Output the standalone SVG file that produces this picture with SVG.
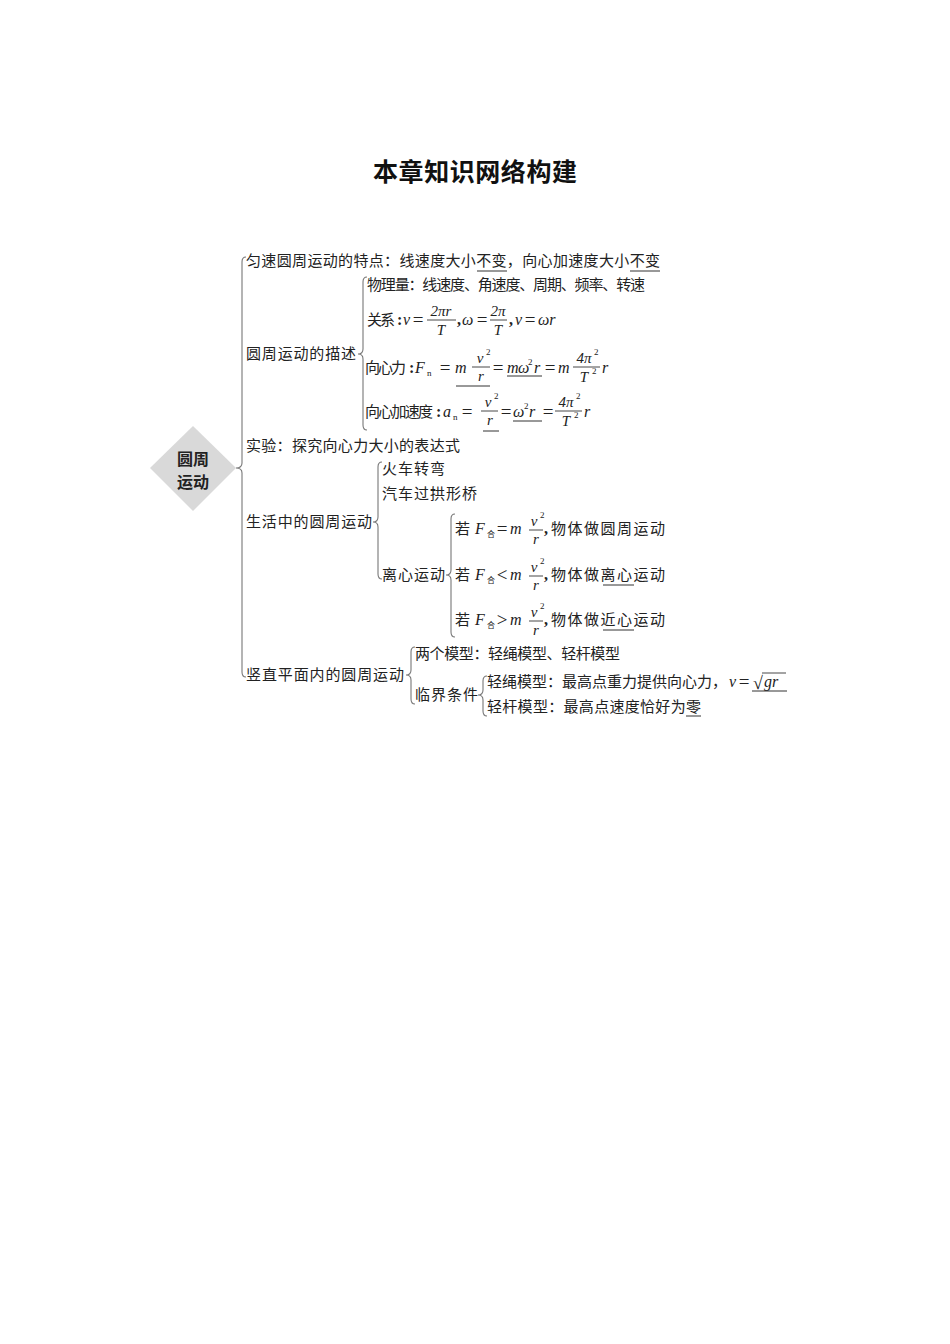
<svg xmlns="http://www.w3.org/2000/svg" width="950" height="1344" viewBox="0 0 950 1344">
<style>
.t{font-family:"Noto Sans CJK SC","Noto Sans",sans-serif;font-size:15px;fill:#222}
.s{font-family:"Noto Sans CJK SC",sans-serif;font-size:8px;fill:#222}
.m{font-family:"Liberation Serif",serif;font-style:italic;font-size:16px;fill:#222}
.f{font-family:"Liberation Serif",serif;font-style:italic;font-size:15px;fill:#222}
.u{font-family:"Liberation Serif",serif;font-size:16px;font-weight:700;fill:#222}
.e{font-family:"Liberation Serif",serif;font-size:19px;fill:#222;text-anchor:middle}
.p{font-family:"Liberation Serif",serif;font-size:9px;fill:#222}
.c{text-anchor:middle}
.br{fill:none;stroke:#777;stroke-width:1.1}
.ul{stroke:#333;stroke-width:1}
.fl{stroke:#333;stroke-width:0.9}
.title{font-family:"Noto Sans CJK SC",sans-serif;font-size:25px;font-weight:700;fill:#111}
.hub{font-family:"Noto Sans CJK SC",sans-serif;font-size:16px;font-weight:700;fill:#222;text-anchor:middle}
</style>
<rect width="950" height="1344" fill="#fff"/>
<text class="title" x="475" y="181" text-anchor="middle" textLength="204">本章知识网络构建</text>

<g id="connectors">
<path class="br" d="M246,257 Q242,257 242,262 L242,463 Q242,468 236,468 Q242,468 242,473 L242,672 Q242,677 246,677"/>
<path class="br" d="M367,277 Q363,277 363,282 L363,349 Q363,354 358,354 Q363,354 363,359 L363,425 Q363,430 367,430"/>
<path class="br" d="M382,462 Q378,462 378,467 L378,517 Q378,522 373,522 Q378,522 378,527 L378,574 Q378,579 382,579"/>
<path class="br" d="M455,514 Q451,514 451,519 L451,570 Q451,575 446,575 Q451,575 451,580 L451,632 Q451,637 455,637"/>
<path class="br" d="M415,647 Q411,647 411,652 L411,670 Q411,675 406,675 Q411,675 411,680 L411,699 Q411,704 415,704"/>
<path class="br" d="M487,676 Q483,676 483,681 L483,690 Q483,695 478,695 Q483,695 483,700 L483,711 Q483,716 487,716"/>
</g>

<g id="hub">
<polygon points="193,426 236,468 193,511 150,468" fill="#d9d9d9"/>
<text class="hub" x="193" y="465">圆周</text>
<text class="hub" x="193" y="488">运动</text>
</g>

<g id="uniform">
<text class="t" x="246" y="266" textLength="414">匀速圆周运动的特点：线速度大小不变，向心加速度大小不变</text>
<line class="ul" x1="477" y1="271" x2="507" y2="271"/>
<line class="ul" x1="630" y1="271" x2="660" y2="271"/>
</g>

<g id="describe">
<text class="t" x="246" y="359" textLength="110">圆周运动的描述</text>
</g>

<g id="quantities">
<text class="t" x="367" y="290" textLength="278">物理量：线速度、角速度、周期、频率、转速</text>
</g>

<g id="relation">
<text class="t" x="367" y="325" textLength="28">关系</text>
<text class="u" x="397" y="325">:</text>
<text class="m" x="403" y="325">v</text>
<text class="e" x="418" y="326">=</text>
<text class="f c" x="441" y="316">2πr</text>
<line class="fl" x1="427" y1="320" x2="456" y2="320"/>
<text class="f c" x="441" y="335">T</text>
<text class="u" x="457" y="325">,</text>
<text class="m" x="462" y="325">ω</text>
<text class="e" x="482" y="326">=</text>
<text class="f c" x="498" y="316">2π</text>
<line class="fl" x1="490" y1="320" x2="507" y2="320"/>
<text class="f c" x="498" y="335">T</text>
<text class="u" x="509" y="325">,</text>
<text class="m" x="515" y="325">v</text>
<text class="e" x="530" y="326">=</text>
<text class="m" x="538" y="325">ωr</text>
</g>

<g id="force">
<text class="t" x="365" y="373" textLength="41">向心力</text>
<text class="u" x="409" y="373">:</text>
<text class="m" x="415" y="373">F</text>
<text class="p" x="427" y="376">n</text>
<text class="e" x="445" y="374">=</text>
<text class="m" x="455" y="373">m</text>
<text class="f c" x="480" y="363">v</text>
<text class="p" x="486" y="355">2</text>
<line class="fl" x1="472" y1="367" x2="490" y2="367"/>
<text class="f c" x="481" y="381">r</text>
<text class="e" x="498" y="374">=</text>
<text class="m" x="507" y="373">m</text>
<text class="m" x="518" y="373">ω</text>
<text class="p" x="528" y="365">2</text>
<text class="m" x="534" y="373">r</text>
<text class="e" x="550" y="374">=</text>
<text class="m" x="558" y="373">m</text>
<text class="f c" x="584" y="363">4π</text>
<text class="p" x="594" y="355">2</text>
<line class="fl" x1="573" y1="367" x2="600" y2="367"/>
<text class="f c" x="584" y="382">T</text>
<text class="p" x="592" y="374">2</text>
<text class="m" x="602" y="373">r</text>
<line class="ul" x1="456" y1="386" x2="490" y2="386"/>
<line class="ul" x1="507" y1="376" x2="542" y2="376"/>
</g>

<g id="accel">
<text class="t" x="365" y="417" textLength="68">向心加速度</text>
<text class="u" x="436" y="417">:</text>
<text class="m" x="443" y="417">a</text>
<text class="p" x="453" y="420">n</text>
<text class="e" x="467" y="418">=</text>
<text class="f c" x="488" y="407">v</text>
<text class="p" x="494" y="399">2</text>
<line class="fl" x1="481" y1="411" x2="498" y2="411"/>
<text class="f c" x="490" y="425">r</text>
<text class="e" x="506" y="418">=</text>
<text class="m" x="513" y="417">ω</text>
<text class="p" x="524" y="409">2</text>
<text class="m" x="529" y="417">r</text>
<text class="e" x="548" y="418">=</text>
<text class="f c" x="566" y="407">4π</text>
<text class="p" x="576" y="399">2</text>
<line class="fl" x1="555" y1="411" x2="582" y2="411"/>
<text class="f c" x="566" y="426">T</text>
<text class="p" x="574" y="418">2</text>
<text class="m" x="584" y="417">r</text>
<line class="ul" x1="483" y1="431" x2="499" y2="431"/>
<line class="ul" x1="513" y1="421" x2="542" y2="421"/>
</g>

<g id="experiment">
<text class="t" x="246" y="451" textLength="214">实验：探究向心力大小的表达式</text>
</g>

<g id="life">
<text class="t" x="246" y="527" textLength="126">生活中的圆周运动</text>
</g>
<g id="train">
<text class="t" x="382" y="474" textLength="63">火车转弯</text>
</g>
<g id="bridge">
<text class="t" x="382" y="499" textLength="95">汽车过拱形桥</text>
</g>
<g id="centrifugal">
<text class="t" x="382" y="580" textLength="63">离心运动</text>
</g>

<g id="case-equal">
<text class="t" x="455" y="534">若</text>
<text class="m" x="475" y="534">F</text>
<text class="s" x="487" y="537">合</text>
<text class="e" x="502" y="535">=</text>
<text class="m" x="510" y="534">m</text>
<text class="f c" x="534" y="526">v</text>
<text class="p" x="540" y="518">2</text>
<line class="fl" x1="529" y1="530" x2="543" y2="530"/>
<text class="f c" x="536" y="544">r</text>
<text class="u" x="544" y="534">,</text>
<text class="t" x="551" y="534" textLength="114">物体做圆周运动</text>
</g>

<g id="case-less">
<text class="t" x="455" y="580">若</text>
<text class="m" x="475" y="580">F</text>
<text class="s" x="487" y="583">合</text>
<text class="e" x="502" y="581">&lt;</text>
<text class="m" x="510" y="580">m</text>
<text class="f c" x="534" y="572">v</text>
<text class="p" x="540" y="564">2</text>
<line class="fl" x1="529" y1="576" x2="543" y2="576"/>
<text class="f c" x="536" y="590">r</text>
<text class="u" x="544" y="580">,</text>
<text class="t" x="551" y="580" textLength="114">物体做离心运动</text>
<line class="ul" x1="603" y1="585" x2="634" y2="585"/>
</g>

<g id="case-greater">
<text class="t" x="455" y="625">若</text>
<text class="m" x="475" y="625">F</text>
<text class="s" x="487" y="628">合</text>
<text class="e" x="502" y="626">&gt;</text>
<text class="m" x="510" y="625">m</text>
<text class="f c" x="534" y="617">v</text>
<text class="p" x="540" y="609">2</text>
<line class="fl" x1="529" y1="621" x2="543" y2="621"/>
<text class="f c" x="536" y="635">r</text>
<text class="u" x="544" y="625">,</text>
<text class="t" x="551" y="625" textLength="114">物体做近心运动</text>
<line class="ul" x1="603" y1="630" x2="634" y2="630"/>
</g>

<g id="vertical">
<text class="t" x="246" y="680" textLength="158">竖直平面内的圆周运动</text>
</g>
<g id="models">
<text class="t" x="415" y="659" textLength="205">两个模型：轻绳模型、轻杆模型</text>
</g>
<g id="critical">
<text class="t" x="415" y="700" textLength="63">临界条件</text>
</g>
<g id="rope">
<text class="t" x="487" y="687" textLength="240">轻绳模型：最高点重力提供向心力，</text>
<text class="m" x="729" y="687">v</text>
<text class="e" x="744" y="688">=</text>
<text x="753" y="689" font-family="Liberation Serif, serif" font-size="18" fill="#222">√</text>
<line class="fl" x1="762" y1="673" x2="786" y2="673"/>
<text class="m" x="764" y="687">gr</text>
<line class="ul" x1="752" y1="691" x2="787" y2="691"/>
</g>
<g id="rod">
<text class="t" x="487" y="712" textLength="214">轻杆模型：最高点速度恰好为零</text>
<line class="ul" x1="686" y1="716" x2="701" y2="716"/>
</g>
</svg>
